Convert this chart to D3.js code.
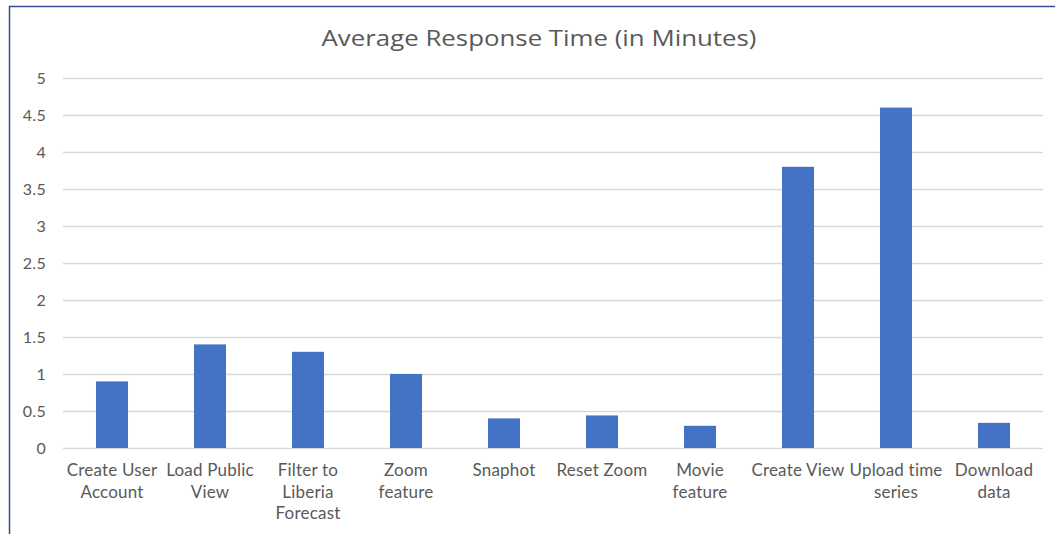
<!DOCTYPE html>
<html>
<head>
<meta charset="utf-8">
<script src="https://cdn.jsdelivr.net/npm/d3@7"></script>
<style>
  html, body { margin: 0; padding: 0; background: #fff; }
  svg { display: block; }
</style>
</head>
<body>
<svg id="chart" width="1055" height="534"></svg>
<script>
const title = "Average Response Time (in Minutes)";
const categories = ["Create User Account", "Load Public View", "Filter to Liberia Forecast", "Zoom feature", "Snaphot", "Reset Zoom", "Movie feature", "Create View", "Upload time series", "Download data"];
const labelLines = [["Create User", "Account"], ["Load Public", "View"], ["Filter to", "Liberia", "Forecast"], ["Zoom", "feature"], ["Snaphot"], ["Reset Zoom"], ["Movie", "feature"], ["Create View"], ["Upload time", "series"], ["Download", "data"]];
const values = [0.9, 1.4, 1.3, 1.0, 0.4, 0.44, 0.3, 3.8, 4.6, 0.34];
const yTicks = [0, 0.5, 1, 1.5, 2, 2.5, 3, 3.5, 4, 4.5, 5];

const svg = d3.select("#chart");
const font = "Lato, 'Open Sans', sans-serif";

// border
svg.append("rect").attr("x", 9.5).attr("y", 6.5).attr("width", 1200).attr("height", 600)
  .attr("fill", "#fff").attr("stroke", "#2f528f").attr("stroke-width", 1.5);

const x = d3.scaleBand().domain(categories).range([63, 1043]).paddingInner(0.673).paddingOuter(0.3365);
const y = d3.scaleLinear().domain([0, 5]).range([448, 78]);

// gridlines
const yAxis = d3.axisLeft(y).tickValues(yTicks).tickSize(-(1043 - 63)).tickPadding(17)
  .tickFormat(d => d === 0 ? "0" : String(d));
const gy = svg.append("g").attr("transform", "translate(63,0)").call(yAxis);
gy.select(".domain").remove();
gy.selectAll(".tick line").attr("stroke", "#d9d9d9").attr("stroke-width", 1.3);
gy.selectAll(".tick text").attr("fill", "#595959").attr("font-family", font).attr("font-size", 16)
  .attr("letter-spacing", 0.3);

// bars
svg.append("g").selectAll("rect").data(values).join("rect")
  .attr("x", (d, i) => x(categories[i]))
  .attr("width", x.bandwidth())
  .attr("y", d => y(d))
  .attr("height", d => y(0) - y(d))
  .attr("fill", "#4472c4");

// category labels
const xAxis = d3.axisBottom(x).tickSize(0).tickFormat("");
const gx = svg.append("g").attr("transform", `translate(0,${y(0)})`).call(xAxis);
gx.select(".domain").remove();
gx.selectAll(".tick").each(function(d, i) {
  const t = d3.select(this).append("text")
    .attr("fill", "#595959").attr("font-family", font).attr("font-size", 17)
    .attr("letter-spacing", 0.2)
    .attr("text-anchor", "middle");
  labelLines[i].forEach((ln, j) => {
    t.append("tspan").attr("x", 0).attr("y", 28 + j * 21.5).text(ln);
  });
});

// title
svg.append("text").attr("x", 539).attr("y", 46).attr("text-anchor", "middle")
  .attr("fill", "#595959").attr("font-family", "'Open Sans', Lato, sans-serif").attr("font-size", 22)
  .attr("textLength", 435).attr("lengthAdjust", "spacingAndGlyphs")
  .text(title);
</script>
</body>
</html>
